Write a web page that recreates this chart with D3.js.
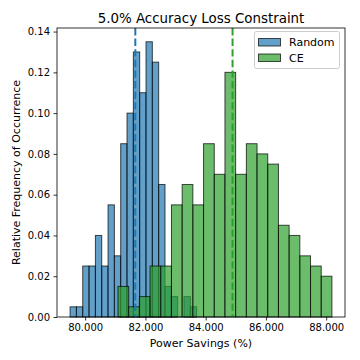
<!DOCTYPE html>
<html>
<head>
<meta charset="utf-8">
<script src="https://cdn.jsdelivr.net/npm/d3@7"></script>
<style>
html,body{margin:0;padding:0;background:#fff;}
svg{display:block;font-family:"DejaVu Sans",sans-serif;}
</style>
</head>
<body>
<svg id="chart" width="360" height="360"></svg>
<script>
// ---- data ----
const title = "5.0% Accuracy Loss Constraint";
const xLabel = "Power Savings (%)";
const yLabel = "Relative Frequency of Occurrence";
const seriesNames = ["Random", "CE"];

const randomEdges = [79.50, 79.71, 79.92, 80.13, 80.34, 80.55, 80.76, 80.97, 81.18, 81.39, 81.60,
                     81.81, 82.02, 82.23, 82.44, 82.65, 82.86, 83.07, 83.28, 83.49, 83.70];
const randomFreq = [0.005, 0.005, 0.025, 0.025, 0.040, 0.025, 0.055, 0.030, 0.085, 0.100,
                    0.130, 0.110, 0.135, 0.125, 0.065, 0.015, 0.010, 0.000, 0.010, 0.005];

const ceEdges = [81.09, 81.445, 81.80, 82.155, 82.51, 82.865, 83.22, 83.575, 83.93, 84.285, 84.64,
                 84.995, 85.35, 85.705, 86.06, 86.415, 86.77, 87.125, 87.48, 87.835, 88.19];
const ceFreq = [0.015, 0.005, 0.010, 0.025, 0.025, 0.055, 0.065, 0.055, 0.085, 0.070,
                0.120, 0.070, 0.085, 0.080, 0.075, 0.045, 0.040, 0.030, 0.025, 0.020];

const randomMean = 81.665;
const ceMean = 84.892;

const xTicks = [80, 82, 84, 86, 88];
const yTicks = [0.00, 0.02, 0.04, 0.06, 0.08, 0.10, 0.12, 0.14];

// ---- layout ----
const L = 57, R = 345, T = 28, B = 317;
const colors = ["#1f77b4", "#2ca02c"];

const svg = d3.select("#chart");
svg.append("rect").attr("width", 360).attr("height", 360).attr("fill", "#fff");

const x = d3.scaleLinear().domain([79.066, 88.624]).range([L, R]);
const y = d3.scaleLinear().domain([0, 0.14175]).range([B, T]);

function drawHist(edges, freq, color) {
  const bins = freq.map((f, i) => ({x0: edges[i], x1: edges[i + 1], f}));
  svg.append("g").selectAll("rect").data(bins.filter(d => d.f > 0)).join("rect")
    .attr("x", d => x(d.x0))
    .attr("y", d => y(d.f))
    .attr("width", d => x(d.x1) - x(d.x0))
    .attr("height", d => y(0) - y(d.f))
    .attr("fill", color)
    .attr("fill-opacity", 0.7)
    .attr("stroke", "#000")
    .attr("stroke-opacity", 0.7)
    .attr("stroke-width", 1);
}
drawHist(randomEdges, randomFreq, colors[0]);
drawHist(ceEdges, ceFreq, colors[1]);

// mean lines
[[randomMean, colors[0]], [ceMean, colors[1]]].forEach(([m, c]) => {
  svg.append("line")
    .attr("x1", x(m)).attr("x2", x(m))
    .attr("y1", T).attr("y2", B)
    .attr("stroke", c).attr("stroke-width", 2)
    .attr("stroke-dasharray", "7.4,3.2");
});

// axes
const xAxis = d3.axisBottom(x).tickValues(xTicks).tickFormat(d3.format(".3f"))
  .tickSize(3.5).tickPadding(3.5);
const yAxis = d3.axisLeft(y).tickValues(yTicks).tickFormat(d3.format(".2f"))
  .tickSize(3.5).tickPadding(3.5);

const gx = svg.append("g").attr("transform", `translate(0,${B})`).call(xAxis);
const gy = svg.append("g").attr("transform", `translate(${L},0)`).call(yAxis);
[gx, gy].forEach(g => {
  g.select(".domain").remove();
  g.selectAll(".tick line").attr("stroke", "#000").attr("stroke-width", 0.8);
  g.selectAll(".tick text").attr("fill", "#000").style("font-size", "10px")
    .style("font-family", "DejaVu Sans, sans-serif");
});

// spines
svg.append("rect").attr("x", L).attr("y", T).attr("width", R - L).attr("height", B - T)
  .attr("fill", "none").attr("stroke", "#000").attr("stroke-width", 0.8);

// title & labels
svg.append("text").attr("x", (L + R) / 2).attr("y", 22.5).attr("text-anchor", "middle")
  .style("font-size", "13.4px").attr("fill", "#000").text(title);
svg.append("text").attr("x", (L + R) / 2).attr("y", 347).attr("text-anchor", "middle")
  .style("font-size", "11px").attr("fill", "#000").text(xLabel);
svg.append("text").attr("transform", `translate(20,${(T + B) / 2}) rotate(-90)`)
  .attr("text-anchor", "middle").style("font-size", "11px").attr("fill", "#000").text(yLabel);

// legend
const lg = svg.append("g");
lg.append("rect").attr("x", 254.5).attr("y", 31.5).attr("width", 85).attr("height", 37)
  .attr("rx", 2).attr("fill", "#fff").attr("fill-opacity", 0.8)
  .attr("stroke", "#ccc").attr("stroke-width", 1);
seriesNames.forEach((n, i) => {
  const yy = 38.5 + i * 15.5;
  lg.append("rect").attr("x", 258.5).attr("y", yy).attr("width", 22).attr("height", 7.5)
    .attr("fill", colors[i]).attr("fill-opacity", 0.7)
    .attr("stroke", "#000").attr("stroke-opacity", 0.7).attr("stroke-width", 1);
  lg.append("text").attr("x", 289).attr("y", yy + 7.5).style("font-size", "11px")
    .attr("fill", "#000").text(n);
});
</script>
</body>
</html>
